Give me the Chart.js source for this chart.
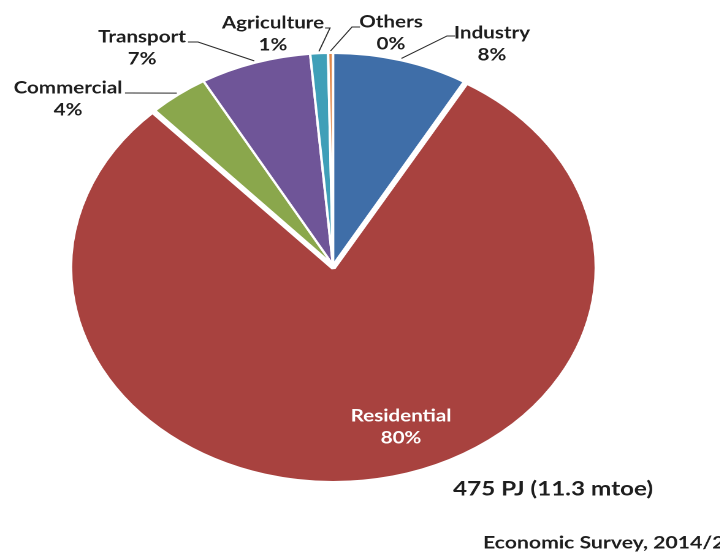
<!DOCTYPE html>
<html>
<head>
<meta charset="utf-8">
<script src="https://cdn.jsdelivr.net/npm/chart.js@4.4.0/dist/chart.umd.min.js"></script>
<style>
  html, body { margin: 0; padding: 0; background: #fff; overflow: hidden; }
  /* the original slide is stretched sideways, so the pie is an ellipse */
  #wrap { width: 588px; height: 554px; transform: scaleX(1.226); transform-origin: 0 0; }
</style>
</head>
<body>
<div id="wrap"><canvas id="pieCanvas" width="588" height="554"></canvas></div>
<script>
// Final energy consumption by sector
var sectors = ['Industry', 'Residential', 'Commercial', 'Transport', 'Agriculture', 'Others'];
var shares = [8.4, 79.6, 3.7, 6.9, 1.1, 0.3];
var sectorColors = ['#3f6ea8', '#a8423f', '#8aa74c', '#6f5598', '#3f9fb8', '#e0874a'];
var totalNote = '475 PJ (11.3 mtoe)';
var sourceNote = 'Economic Survey, 2014/2015';

var stretch = 1.226;
// label spots in screen px (after the sideways stretch)
var labelSpots = {
    Industry:    { x: 492, y: 33, elbow: [447, 36], end: [455, 36] },
    Residential: { x: 401, y: 416, inside: true },
    Commercial:  { x: 68,  y: 88, elbow: [128, 93], end: [125, 93] },
    Transport:   { x: 142, y: 37, elbow: [198, 42], end: [188, 42] },
    Agriculture: { x: 273, y: 23, elbow: [330, 28], end: [325, 28] },
    Others:      { x: 391, y: 22, elbow: [352, 27], end: [360, 27] }
};

const sliceLabels = {
    id: 'sliceLabels',
    afterDatasetsDraw(chart) {
        const ctx = chart.ctx;
        const arcs = chart.getDatasetMeta(0).data;
        ctx.save();
        ctx.font = 'bold 16.8px Lato, "Open Sans", sans-serif';
        ctx.textAlign = 'center';
        ctx.textBaseline = 'middle';
        ctx.strokeStyle = '#2b2b2b';
        ctx.lineWidth = 1;
        arcs.forEach(function (arc, i) {
            const spot = labelSpots[sectors[i]];
            if (spot.inside) {
                ctx.fillStyle = '#ffffff';
            } else {
                // leader line from the middle of the slice rim
                const mid = (arc.startAngle + arc.endAngle) / 2;
                const ax = arc.x + Math.cos(mid) * (arc.outerRadius + 2);
                const ay = arc.y + Math.sin(mid) * (arc.outerRadius + 2);
                ctx.beginPath();
                ctx.moveTo(ax, ay);
                ctx.lineTo(spot.elbow[0] / stretch, spot.elbow[1]);
                ctx.lineTo(spot.end[0] / stretch, spot.end[1]);
                ctx.stroke();
                ctx.fillStyle = '#1e1e1e';
            }
            ctx.fillText(sectors[i], spot.x / stretch, spot.y);
            ctx.fillText(Math.round(shares[i]) + '%', spot.x / stretch, spot.y + 22);
        });
        ctx.fillStyle = '#1e1e1e';
        ctx.textAlign = 'left';
        ctx.font = 'bold 19.8px Lato, "Open Sans", sans-serif';
        ctx.fillText(totalNote, 453 / stretch, 489);
        ctx.font = 'bold 17.3px Lato, "Open Sans", sans-serif';
        ctx.fillText(sourceNote, 483 / stretch, 543);
        ctx.restore();
    }
};

const ctx = document.getElementById('pieCanvas').getContext('2d');
const myChart = new Chart(ctx, {
    type: 'pie',
    data: {
        labels: sectors,
        datasets: [{
            data: shares,
            backgroundColor: sectorColors,
            borderColor: '#ffffff',
            borderWidth: [2, 4, 2, 2, 2, 2],
            offset: [0, 12, 0, 0, 0, 0],
            hoverOffset: 0
        }]
    },
    options: {
        responsive: false,
        animation: false,
        devicePixelRatio: 2,
        events: [],
        layout: {
            padding: { left: 51.6, right: 96.4, top: 45, bottom: 69 }
        },
        plugins: {
            legend: { display: false },
            tooltip: { enabled: false }
        }
    },
    plugins: [sliceLabels]
});
</script>
</body>
</html>
